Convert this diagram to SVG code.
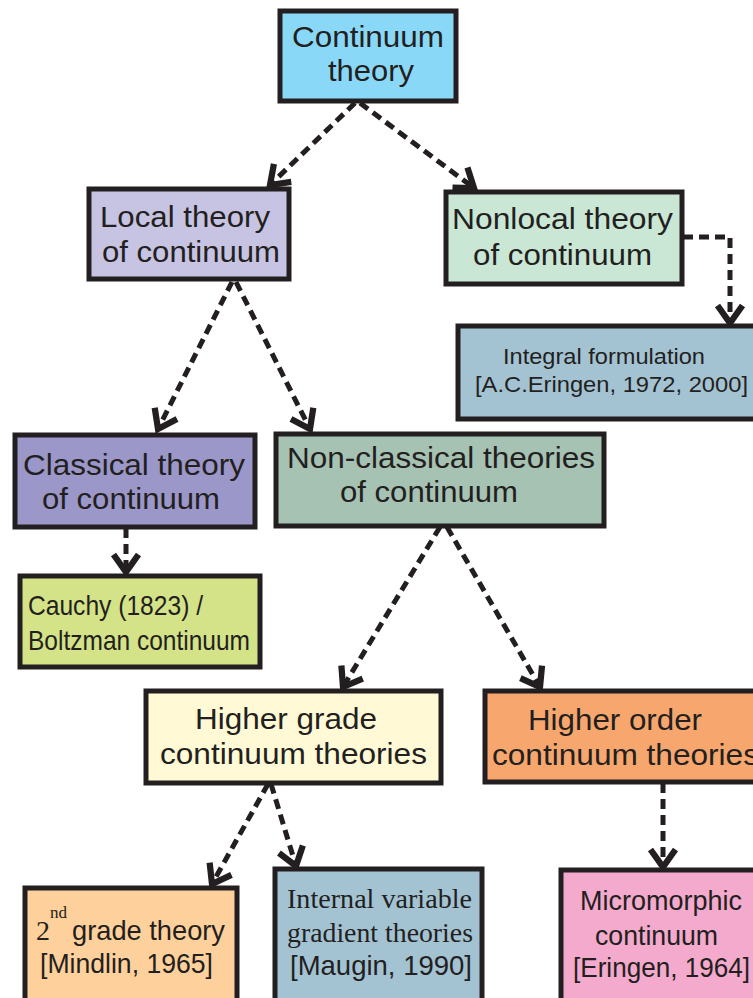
<svg xmlns="http://www.w3.org/2000/svg" width="753" height="998" viewBox="0 0 753 998">
<defs>
<style>
.box{stroke:#231f20;stroke-width:5;}
.t{font-family:"Liberation Sans",Arial,sans-serif;font-size:29px;fill:#231f20;}
.s{font-family:"Liberation Sans",Arial,sans-serif;font-size:22px;fill:#231f20;}
.n{font-family:"Liberation Sans",Arial,sans-serif;font-size:28px;fill:#231f20;}
.r{font-family:"Liberation Serif","Times New Roman",serif;font-size:28px;fill:#231f20;}
.c{fill:none;stroke:#231f20;stroke-width:5;stroke-dasharray:10 6;}
</style>
<marker id="arr" markerUnits="userSpaceOnUse" markerWidth="30" markerHeight="30" refX="0" refY="0" viewBox="-16 -12 20 24" orient="auto" overflow="visible">
<path d="M-14,-10 L0,0 L-14,10" fill="none" stroke="#231f20" stroke-width="5" stroke-linecap="butt" stroke-linejoin="miter"/>
</marker>
</defs>
<rect width="753" height="998" fill="#ffffff"/>

<g id="connectors">
<path class="c" d="M355,103 L270,185" marker-end="url(#arr)"/>
<path class="c" d="M360,103 L474,188" marker-end="url(#arr)"/>
<path class="c" d="M683,237 H730 V323" marker-end="url(#arr)"/>
<path class="c" d="M232,282 L158,429" marker-end="url(#arr)"/>
<path class="c" d="M236,282 L310,429" marker-end="url(#arr)"/>
<path class="c" d="M126,528 V572" marker-end="url(#arr)"/>
<path class="c" d="M440,527 L343,687" marker-end="url(#arr)"/>
<path class="c" d="M447,527 L540,687" marker-end="url(#arr)"/>
<path class="c" d="M268,784 L212,884" marker-end="url(#arr)"/>
<path class="c" d="M271,784 L296,866" marker-end="url(#arr)"/>
<path class="c" d="M663,783 V867" marker-end="url(#arr)"/>
</g>

<g id="continuum">
<rect class="box" x="280" y="11" width="176" height="90" fill="#8ad8f7"/>
<text class="t" x="292" y="47" textLength="152" lengthAdjust="spacingAndGlyphs">Continuum</text>
<text class="t" x="328" y="81" textLength="86" lengthAdjust="spacingAndGlyphs">theory</text>
</g>

<g id="local">
<rect class="box" x="89" y="189" width="200" height="90" fill="#c6c4e2"/>
<text class="t" x="100" y="227" textLength="170" lengthAdjust="spacingAndGlyphs">Local theory</text>
<text class="t" x="102" y="262" textLength="178" lengthAdjust="spacingAndGlyphs">of continuum</text>
</g>

<g id="nonlocal">
<rect class="box" x="446" y="192" width="236" height="92" fill="#cae7d5"/>
<text class="t" x="452" y="229" textLength="221" lengthAdjust="spacingAndGlyphs">Nonlocal theory</text>
<text class="t" x="473" y="265" textLength="179" lengthAdjust="spacingAndGlyphs">of continuum</text>
</g>

<g id="integral">
<rect class="box" x="458" y="326" width="305" height="93" fill="#a3c3d3"/>
<text class="s" x="503" y="364" textLength="202" lengthAdjust="spacingAndGlyphs">Integral formulation</text>
<text class="s" x="475" y="392" textLength="273" lengthAdjust="spacingAndGlyphs">[A.C.Eringen, 1972, 2000]</text>
</g>

<g id="classical">
<rect class="box" x="15" y="435" width="240" height="92" fill="#9b97c8"/>
<text class="t" x="23" y="475" textLength="222" lengthAdjust="spacingAndGlyphs">Classical theory</text>
<text class="t" x="42" y="509" textLength="178" lengthAdjust="spacingAndGlyphs">of continuum</text>
</g>

<g id="cauchy">
<rect class="box" x="20" y="576" width="240" height="91" fill="#d4e288"/>
<text class="n" x="28" y="615" textLength="175" lengthAdjust="spacingAndGlyphs">Cauchy (1823) /</text>
<text class="n" x="28" y="650" textLength="222" lengthAdjust="spacingAndGlyphs">Boltzman continuum</text>
</g>

<g id="nonclassical">
<rect class="box" x="276" y="434" width="328" height="92" fill="#a6c2b3"/>
<text class="t" x="287" y="468" textLength="308" lengthAdjust="spacingAndGlyphs">Non-classical theories</text>
<text class="t" x="340" y="502" textLength="178" lengthAdjust="spacingAndGlyphs">of continuum</text>
</g>

<g id="highergrade">
<rect class="box" x="146" y="691" width="295" height="92" fill="#fffad5"/>
<text class="t" x="195" y="729" textLength="182" lengthAdjust="spacingAndGlyphs">Higher grade</text>
<text class="t" x="160" y="764" textLength="267" lengthAdjust="spacingAndGlyphs">continuum theories</text>
</g>

<g id="higherorder">
<rect class="box" x="485" y="691" width="280" height="91" fill="#f7a76e"/>
<text class="t" x="528" y="730" textLength="174" lengthAdjust="spacingAndGlyphs">Higher order</text>
<text class="t" x="492" y="765" textLength="267" lengthAdjust="spacingAndGlyphs">continuum theories</text>
</g>

<g id="secondgrade">
<rect class="box" x="25" y="888" width="212" height="120" fill="#fed09c"/>
<text class="r" x="36" y="940">2</text>
<text class="r" x="50" y="918" style="font-size:17px">nd</text>
<text class="n" x="72" y="940" textLength="153" lengthAdjust="spacingAndGlyphs">grade theory</text>
<text class="n" x="40" y="973" textLength="173" lengthAdjust="spacingAndGlyphs">[Mindlin, 1965]</text>
</g>

<g id="internal">
<rect class="box" x="275" y="869" width="207" height="140" fill="#a3c3d3"/>
<text class="r" x="287" y="908" textLength="185" lengthAdjust="spacingAndGlyphs">Internal variable</text>
<text class="r" x="287" y="942" textLength="186" lengthAdjust="spacingAndGlyphs">gradient theories</text>
<text class="n" x="290" y="975" textLength="182" lengthAdjust="spacingAndGlyphs">[Maugin, 1990]</text>
</g>

<g id="micromorphic">
<rect class="box" x="561" y="870" width="205" height="140" fill="#f3aacc"/>
<text class="n" x="580" y="910" textLength="162" lengthAdjust="spacingAndGlyphs">Micromorphic</text>
<text class="n" x="595" y="945" textLength="123" lengthAdjust="spacingAndGlyphs">continuum</text>
<text class="n" x="573" y="977" textLength="177" lengthAdjust="spacingAndGlyphs">[Eringen, 1964]</text>
</g>
</svg>
